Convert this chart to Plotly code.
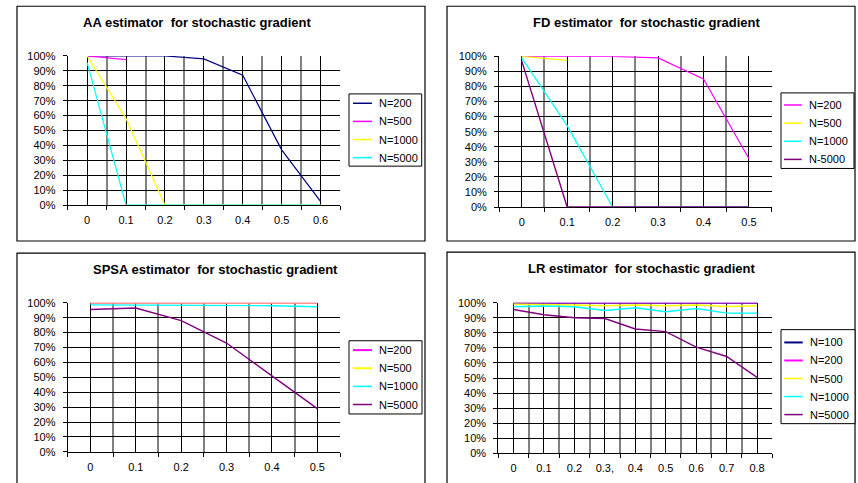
import plotly.graph_objects as go

W, H = 858, 483

# ---------------- data ----------------
aa_cats = [0, 0.1, 0.2, 0.3, 0.4, 0.5, 0.6]
aa_labels = ["0", "0.1", "0.2", "0.3", "0.4", "0.5", "0.6"]
aa_names = ["N=200", "N=500", "N=1000", "N=5000"]
aa_n200 = [1.00, 1.00, 1.00, 0.98, 0.87, 0.37, 0.025]
aa_n500 = [1.00, 0.975, None, None, None, None, None]
aa_n1000 = [1.00, 0.58, 0.0, 0.0, 0.0, 0.0, 0.0]
aa_n5000 = [0.955, 0.0, 0.0, 0.0, 0.0, 0.0, 0.0]

fd_cats = [0, 0.1, 0.2, 0.3, 0.4, 0.5]
fd_labels = ["0", "0.1", "0.2", "0.3", "0.4", "0.5"]
fd_names = ["N=200", "N=500", "N=1000", "N-5000"]
fd_n200 = [1.00, 1.00, 1.00, 0.99, 0.85, 0.32]
fd_n500 = [1.00, 0.973, None, None, None, None]
fd_n1000 = [0.99, 0.54, 0.0, 0.0, 0.0, 0.0]
fd_n5000 = [0.97, 0.0, 0.0, 0.0, 0.0, 0.0]

spsa_cats = [0, 0.1, 0.2, 0.3, 0.4, 0.5]
spsa_labels = ["0", "0.1", "0.2", "0.3", "0.4", "0.5"]
spsa_names = ["N=200", "N=500", "N=1000", "N=5000"]
spsa_n200 = [1.00, 1.00, 1.00, 1.00, 1.00, 1.00]
spsa_n500 = [1.00, 1.00, 1.00, 1.00, 1.00, 1.00]
spsa_n1000 = [0.986, 0.985, 0.985, 0.982, 0.98, 0.973]
spsa_n5000 = [0.955, 0.965, 0.88, 0.73, 0.51, 0.29]

lr_cats = [0, 0.1, 0.2, 0.3, 0.4, 0.5, 0.6, 0.7, 0.8]
lr_labels = ["0", "0.1", "0.2", "0.3,", "0.4", "0.5", "0.6", "0.7", "0.8"]
lr_names = ["N=100", "N=200", "N=500", "N=1000", "N=5000"]
lr_n100 = [1.00, 1.00, 1.00, 1.00, 1.00, 1.00, 1.00, 1.00, 1.00]
lr_n200 = [1.00, 1.00, 1.00, 1.00, 1.00, 1.00, 1.00, 1.00, 1.00]
lr_n500 = [0.99, 0.99, 0.985, 0.98, 0.985, 0.98, 0.985, 0.975, 0.98]
lr_n1000 = [0.973, 0.978, 0.973, 0.949, 0.967, 0.94, 0.962, 0.931, 0.931]
lr_n5000 = [0.955, 0.92, 0.90, 0.895, 0.826, 0.808, 0.705, 0.643, 0.504]

titles = ["AA estimator\u00a0 for stochastic gradient",
          "FD estimator\u00a0 for stochastic gradient",
          "SPSA estimator\u00a0 for stochastic gradient",
          "LR estimator\u00a0 for stochastic gradient"]

NAVY, MAG, YEL, CYA, PUR = "#000080", "#FF00FF", "#FFFF00", "#00FFFF", "#800080"

FONT = "Liberation Sans, Arial, sans-serif"

# the captured page is 16px taller than the figure and squeezed back to 483px,
# so vertical positions are pre-compensated
VSCALE = (H + 16) / H
VOFF = 8.0


def px_x(v):
    return v / W


def px_y(v):
    return 1 - (v * VSCALE - VOFF) / H


fig = go.Figure()

panels = [
    dict(cats=aa_cats, labels=aa_labels, names=aa_names,
         series=[aa_n200, aa_n500, aa_n1000, aa_n5000],
         colors=[NAVY, MAG, YEL, CYA], widths=[1.2, 1.2, 1.2, 1.2],
         opac=[1, 1, 1, 1],
         plot=(67.7, 340, 57.3, 205.3), box=(17, 8, 425, 241),
         title=(197, 24.5),
         legend=dict(box=(349, 95, 421.7, 166.7), y0=104.3, dy=18, lx=(353, 372), tx=376.5)),
    dict(cats=fd_cats, labels=fd_labels, names=fd_names,
         series=[fd_n200, fd_n500, fd_n1000, fd_n5000],
         colors=[MAG, YEL, CYA, PUR], widths=[1.2, 1.2, 1.2, 1.4],
         opac=[1, 1, 1, 1],
         plot=(499, 771.7, 57.7, 207.3), box=(447, 8, 855, 241),
         title=(646, 24.5),
         legend=dict(box=(781, 94, 854, 169), y0=106, dy=18, lx=(784, 801.7), tx=806.5)),
    dict(cats=spsa_cats, labels=spsa_labels, names=spsa_names,
         series=[spsa_n200, spsa_n500, spsa_n1000, spsa_n5000],
         colors=[MAG, YEL, CYA, PUR], widths=[2, 2, 1.4, 1.4],
         opac=[1, 0.6, 1, 1],
         plot=(67.7, 340, 302.3, 450.3), box=(17, 253, 425, 500),
         title=(215, 269),
         legend=dict(box=(349, 340, 422, 412.7), y0=349.3, dy=18, lx=(353, 372), tx=376.5)),
    dict(cats=lr_cats, labels=lr_labels, names=lr_names,
         series=[lr_n100, lr_n200, lr_n500, lr_n1000, lr_n5000],
         colors=[NAVY, MAG, YEL, CYA, PUR], widths=[2, 2, 1.4, 1.4, 1.4],
         opac=[1, 0.6, 1, 1, 1],
         plot=(498.3, 772.3, 302.3, 451.7), box=(447, 252, 855, 500),
         title=(641, 268),
         legend=dict(box=(781, 329, 855, 422.3), y0=341.7, dy=17.9, lx=(784.3, 802.7), tx=807.5)),
]

shapes = []
annotations = []
layout_axes = {}

for i, p in enumerate(panels):
    k = "" if i == 0 else str(i + 1)
    xa, ya = "x" + k, "y" + k
    for name, vals, col, w, op in zip(p["names"], p["series"], p["colors"],
                                      p["widths"], p["opac"]):
        fig.add_trace(go.Scatter(
            x=p["cats"], y=vals, name=name, mode="lines",
            line=dict(color=col, width=w), opacity=op,
            xaxis=xa, yaxis=ya, showlegend=False, connectgaps=False,
            cliponaxis=False,
        ))
    cats = p["cats"]
    step = cats[1] - cats[0]
    bounds = [c - step / 2 for c in cats] + [cats[-1] + step / 2]
    x0, x1, y0, y1 = p["plot"]
    layout_axes["xaxis" + k] = dict(
        domain=[px_x(x0), px_x(x1)], anchor=ya,
        range=[bounds[0], bounds[-1]],
        tickmode="array", tickvals=cats, ticktext=p["labels"],
        ticks="", showgrid=True, gridcolor="#000000", gridwidth=1,
        showline=True, linecolor="#000000", linewidth=1,
        zeroline=False, fixedrange=True, layer="below traces",
        tickfont=dict(family=FONT, size=11, color="#000000"),
        ticklabelstandoff=5,
        minor=dict(tickmode="array", tickvals=bounds, showgrid=True,
                   gridcolor="#808080", gridwidth=2, ticks="outside",
                   ticklen=4, tickcolor="#000000", tickwidth=1),
    )
    layout_axes["yaxis" + k] = dict(
        domain=[px_y(y1), px_y(y0)], anchor=xa,
        range=[0, 1], dtick=0.1, tick0=0, tickformat=".0%",
        ticks="outside", ticklen=4, tickcolor="#000000",
        showgrid=True, gridcolor="#000000", gridwidth=1,
        showline=True, linecolor="#000000", linewidth=1,
        zeroline=False, fixedrange=True, layer="below traces",
        tickfont=dict(family=FONT, size=11, color="#000000"),
        ticklabelstandoff=5,
    )
    bx0, by0, bx1, by1 = p["box"]
    shapes.append(dict(type="rect", xref="paper", yref="paper",
                       x0=px_x(bx0), x1=px_x(bx1), y0=px_y(by1), y1=px_y(by0),
                       line=dict(color="#000000", width=1.2), layer="below"))
    tx, ty = p["title"]
    annotations.append(dict(text="<b>" + titles[i] + "</b>", xref="paper", yref="paper",
                            x=px_x(tx), y=px_y(ty), xanchor="center", yanchor="middle",
                            showarrow=False,
                            font=dict(family=FONT, size=13, color="#000000")))
    # compact Excel-style key
    lg = p["legend"]
    lbx0, lby0, lbx1, lby1 = lg["box"]
    shapes.append(dict(type="rect", xref="paper", yref="paper",
                       x0=px_x(lbx0), x1=px_x(lbx1), y0=px_y(lby1), y1=px_y(lby0),
                       line=dict(color="#000000", width=1), fillcolor="#FFFFFF",
                       layer="above"))
    for j, (name, col, w) in enumerate(zip(p["names"], p["colors"], p["widths"])):
        yy = lg["y0"] + j * lg["dy"]
        shapes.append(dict(type="line", xref="paper", yref="paper",
                           x0=px_x(lg["lx"][0]), x1=px_x(lg["lx"][1]),
                           y0=px_y(yy), y1=px_y(yy),
                           line=dict(color=col, width=max(w, 1.5)), layer="above"))
        annotations.append(dict(text=name, xref="paper", yref="paper",
                                x=px_x(lg["tx"]), y=px_y(yy), xanchor="left",
                                yanchor="middle", showarrow=False,
                                font=dict(family=FONT, size=11, color="#000000")))

fig.update_layout(
    width=W, height=H,
    margin=dict(l=0, r=0, t=0, b=0),
    paper_bgcolor="#FFFFFF", plot_bgcolor="#FFFFFF",
    showlegend=False,
    shapes=shapes, annotations=annotations,
    **layout_axes,
)

fig.write_html("out.html", config={"displayModeBar": False})

with open("out.html", "r", encoding="utf-8") as f:
    html = f.read()
html = html.replace("<head>", '<head><style>html,body{margin:0;padding:0;overflow:hidden}</style>', 1)
with open("out.html", "w", encoding="utf-8") as f:
    f.write(html)
